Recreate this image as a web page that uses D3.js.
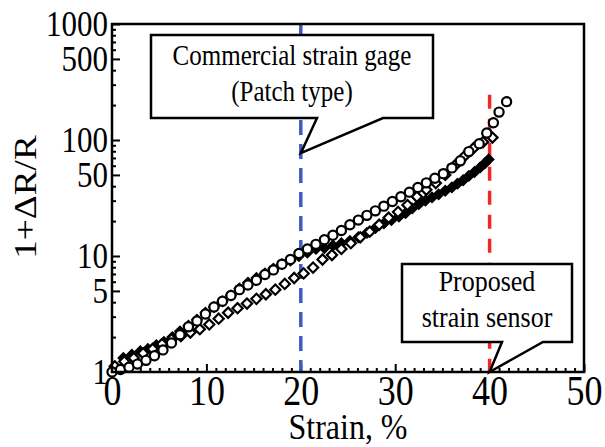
<!DOCTYPE html>
<html lang="en">
<head>
<meta charset="UTF-8">
<title>Strain vs 1+dR/R</title>
<style>
  body { margin: 0; padding: 0; background: #fff; }
  svg text { font-family: "Liberation Serif", "Times New Roman", serif; fill: #000; }
  .tick line { stroke: #000; stroke-width: 2; }
</style>
<script src="https://cdnjs.cloudflare.com/ajax/libs/d3/7.8.5/d3.min.js"></script>
</head>
<body>
<div id="chart"></div>
<script>
// open circles (proposed strain sensor)
var circleStrain = [0, 0.9, 1.8, 2.7, 3.6, 4.5, 5.4, 6.3, 7.2, 8.1, 9.0, 9.9, 10.8, 11.7, 12.6, 13.5, 14.4, 15.3, 16.2, 17.1,
  18.0, 18.9, 19.8, 20.7, 21.6, 22.5, 23.4, 24.3, 25.2, 26.1, 27.0, 27.9, 28.8, 29.7, 30.6, 31.5, 32.4, 33.3, 34.2, 35.1,
  36.0, 36.9, 37.8, 38.9, 39.7, 40.4, 41.0, 41.8];
var circleRatio = [1.0, 1.05, 1.1, 1.17, 1.26, 1.38, 1.55, 1.78, 2.09, 2.45, 2.75, 3.16, 3.63, 4.07, 4.57, 5.13, 5.62, 6.17, 6.92, 7.59,
  8.51, 9.33, 10.5, 11.5, 12.6, 13.8, 15.1, 16.6, 18.6, 20.4, 22.4, 24.5, 26.9, 29.5, 32.4, 35.5, 38.9, 42.7, 46.8, 51.3,
  57.5, 66.1, 79.4, 93, 115, 141, 174, 214];

// filled diamonds
var filledStrain = [0.3, 1.2, 2.1, 3.0, 3.8, 4.7, 5.5, 6.4, 7.2, 8.1, 9.0, 9.9, 10.8, 11.7, 12.6, 13.5, 14.4, 15.3, 16.2, 17.1,
  18.0, 18.9, 19.8, 20.7, 21.6, 22.5, 23.4, 24.3, 25.2, 26.1, 27.0, 27.9, 28.8, 29.6, 30.4, 31.1, 31.8, 32.5, 33.2, 33.9,
  34.6, 35.3, 36.0, 36.6, 37.2, 37.8, 38.4, 39.0, 39.5, 39.9];
var filledRatio = [1.12, 1.32, 1.41, 1.51, 1.58, 1.7, 1.82, 2.0, 2.24, 2.51, 2.82, 3.24, 3.63, 4.07, 4.57, 5.25, 5.89, 6.46, 7.08, 7.76,
  8.51, 9.12, 10.0, 10.7, 11.5, 11.7, 12.3, 12.9, 13.5, 14.5, 15.8, 17.4, 19.1, 20.4, 21.9, 23.4, 25.7, 28.0, 30.0, 32.0,
  34.0, 36.5, 39.0, 42.0, 45.0, 49.0, 53.0, 58.0, 63.0, 68.0];

// open diamonds
var openStrain = [0.3, 1.3, 2.3, 3.3, 4.3, 5.3, 6.3, 7.3, 8.3, 9.3, 10.3, 11.3, 12.3, 13.3, 14.3, 15.3, 16.3, 17.3, 18.3, 19.3,
  20.3, 21.3, 22.3, 23.3, 24.3, 25.3, 26.3, 27.3, 28.3, 29.3, 30.3, 31.3, 32.3, 33.3, 34.3, 35.3, 36.3, 37.3, 38.3, 39.3, 40.3];
var openRatio = [1.12, 1.23, 1.32, 1.45, 1.58, 1.74, 1.91, 2.04, 2.19, 2.34, 2.57, 2.88, 3.24, 3.55, 3.89, 4.27, 4.68, 5.13, 5.75, 6.46,
  7.08, 7.94, 9.33, 10.2, 11.5, 12.9, 14.5, 16.2, 18.6, 21.4, 24.0, 27.5, 32.4, 37.2, 42.5, 50.0, 60.0, 72.0, 85.0, 96.0, 105];

var xTicks = [0, 10, 20, 30, 40, 50];
var yTicks = [1, 5, 10, 50, 100, 500, 1000];

var W = 605, H = 447;
var margin = { top: 24, right: 21, bottom: 75, left: 112 };
var width = W - margin.left - margin.right,
    height = H - margin.top - margin.bottom;
var stretch = 1.15; // text in the picture is taller than it is wide

var x = d3.scaleLinear().domain([0, 50]).range([0, width]);
var y = d3.scaleLog().domain([1, 1000]).range([height, 0]);

var svg = d3.select("#chart").append("svg")
  .attr("width", W).attr("height", H);
var g = svg.append("g")
  .attr("transform", "translate(" + margin.left + "," + margin.top + ")");

// minor ticks
var xMinor = d3.range(0, 51).filter(function (d) { return d % 10 !== 0; });
var yMinor = [];
[1, 10, 100].forEach(function (dec) {
  [2, 3, 4, 6, 7, 8, 9].forEach(function (m) { yMinor.push(dec * m); });
});

g.append("g").attr("transform", "translate(0," + height + ")")
  .call(d3.axisBottom(x).tickValues(xMinor).tickSize(-4).tickFormat(""))
  .call(function (a) { a.select(".domain").remove(); });
g.append("g")
  .call(d3.axisLeft(y).tickValues(yMinor).tickSize(-4).tickFormat(""))
  .call(function (a) { a.select(".domain").remove(); });

// major ticks with labels
var xAxis = g.append("g").attr("transform", "translate(0," + height + ")")
  .call(d3.axisBottom(x).tickValues(xTicks).tickSizeInner(-8).tickSizeOuter(0).tickFormat(d3.format("d")));
xAxis.select(".domain").remove();
xAxis.selectAll("text")
  .style("font-size", "36px")
  .attr("y", 0)
  .attr("transform", "translate(0,4) scale(1," + stretch + ")");

var yAxis = g.append("g")
  .call(d3.axisLeft(y).tickValues(yTicks).tickSizeInner(-8).tickSizeOuter(0).tickPadding(4).tickFormat(d3.format("d")));
yAxis.select(".domain").remove();
yAxis.selectAll("text")
  .style("font-size", "31px")
  .attr("transform", "scale(1," + stretch + ")");

// dashed reference lines
g.append("line")
  .attr("x1", x(20)).attr("x2", x(20))
  .attr("y1", y(1000)).attr("y2", y(1))
  .attr("stroke", "#3b5cc4").attr("stroke-width", 3.5)
  .attr("stroke-dasharray", "15,9");
g.append("line")
  .attr("x1", x(40)).attr("x2", x(40))
  .attr("y1", y(245)).attr("y2", y(1))
  .attr("stroke", "#f02828").attr("stroke-width", 3.5)
  .attr("stroke-dasharray", "14,10");

// data
var filled = filledStrain.map(function (d, i) { return [d, filledRatio[i]]; });
var open = openStrain.map(function (d, i) { return [d, openRatio[i]]; });
var circ = circleStrain.map(function (d, i) { return [d, circleRatio[i]]; });

var diamond = d3.symbol().type(d3.symbolSquare).size(52);

g.selectAll(".fd").data(filled).enter().append("path")
  .attr("class", "fd")
  .attr("d", diamond)
  .attr("transform", function (d) { return "translate(" + x(d[0]) + "," + y(d[1]) + ") rotate(45)"; })
  .attr("fill", "#000").attr("stroke", "#000").attr("stroke-width", 1.5);

g.selectAll(".od").data(open).enter().append("path")
  .attr("class", "od")
  .attr("d", diamond)
  .attr("transform", function (d) { return "translate(" + x(d[0]) + "," + y(d[1]) + ") rotate(45)"; })
  .attr("fill", "#fff").attr("stroke", "#000").attr("stroke-width", 2.2);

g.selectAll(".oc").data(circ).enter().append("circle")
  .attr("class", "oc")
  .attr("cx", function (d) { return x(d[0]); })
  .attr("cy", function (d) { return y(d[1]); })
  .attr("r", 4.6)
  .attr("fill", "#fff").attr("stroke", "#000").attr("stroke-width", 2.2);

// frame
g.append("rect")
  .attr("width", width).attr("height", height)
  .attr("fill", "none").attr("stroke", "#000").attr("stroke-width", 2.5);

// callouts
function callout(box, b1, b2, tip, lines, fs, baselines) {
  var p = d3.path();
  p.moveTo(box[0], box[1]);
  p.lineTo(box[2], box[1]);
  p.lineTo(box[2], box[3]);
  p.lineTo(b2, box[3]);
  p.lineTo(tip[0], tip[1]);
  p.lineTo(b1, box[3]);
  p.lineTo(box[0], box[3]);
  p.closePath();
  svg.append("path").attr("d", p.toString())
    .attr("fill", "#fff").attr("stroke", "#000").attr("stroke-width", 2.5)
    .attr("stroke-linejoin", "miter");
  lines.forEach(function (t, i) {
    svg.append("text")
      .attr("transform", "translate(" + (box[0] + box[2]) / 2 + "," + baselines[i] + ") scale(1," + stretch + ")")
      .attr("text-anchor", "middle").style("font-size", fs + "px")
      .text(t);
  });
}

callout([151, 35, 433, 118], 317, 383,
  [margin.left + x(20), margin.top + y(77)],
  ["Commercial strain gage", "(Patch type)"], 25, [65, 101]);
callout([402, 264, 572, 342], 502, 543,
  [margin.left + x(40), margin.top + y(1)],
  ["Proposed", "strain sensor"], 26, [291, 327]);

// axis titles
svg.append("text")
  .attr("transform", "translate(" + (margin.left + width / 2) + ",439) scale(1,1.1)")
  .attr("text-anchor", "middle").style("font-size", "32px")
  .text("Strain, %");
svg.append("text")
  .attr("transform", "translate(36,197) rotate(-90) scale(1.2,1)")
  .attr("text-anchor", "middle").style("font-size", "31px")
  .text("1+ΔR/R");
</script>
</body>
</html>
